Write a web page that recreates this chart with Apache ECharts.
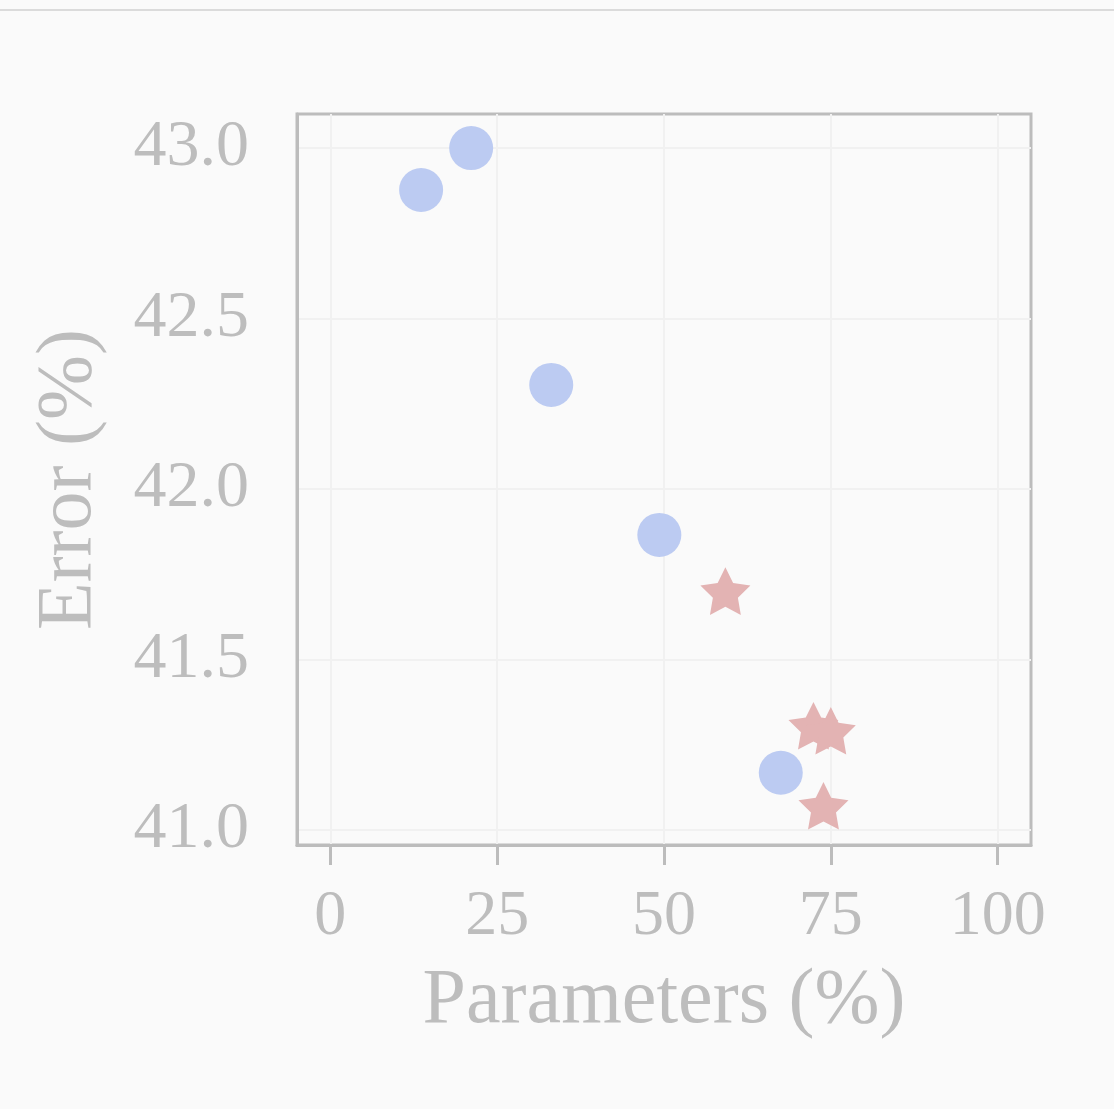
<!DOCTYPE html>
<html>
<head>
<meta charset="utf-8">
<script src="https://cdn.jsdelivr.net/npm/echarts@6/dist/echarts.min.js"></script>
<style>
html,body{margin:0;padding:0;background:#fafafa;}
#c{width:1114px;height:1109px;}
</style>
</head>
<body>
<div id="c"></div>
<script>
const xTicks = [0, 25, 50, 75, 100];
const yTicks = [41.0, 41.5, 42.0, 42.5, 43.0];
const circlePoints = [[13.6, 42.877], [21.1, 43.0], [33.1, 42.305], [49.3, 41.865], [67.5, 41.167]];
const starPoints = [[59.2, 41.70], [72.4, 41.305], [75.0, 41.29], [73.9, 41.07]];

const font = 'Liberation Serif';
const textColor = '#bdbdbd';
const lineColor = '#bcbcbc';
const starPath = 'path://M50,0 L64.69,29.77 L97.55,34.55 L73.78,57.73 L79.39,90.45 L50,75 L20.61,90.45 L26.22,57.73 L2.45,34.55 L35.31,29.77 Z';

const chart = echarts.init(document.getElementById('c'));
chart.setOption({
  backgroundColor: '#fafafa',
  animation: false,
  graphic: [{
    type: 'line', shape: {x1: 0, y1: 10, x2: 1114, y2: 10},
    style: {stroke: '#d0d0d0', lineWidth: 1.5}
  }],
  grid: {left: 297, top: 114, right: 83, bottom: 264, show: true, borderColor: lineColor, borderWidth: 3, backgroundColor: 'transparent'},
  xAxis: {
    type: 'value', min: -5, max: 105,
    name: 'Parameters (%)', nameLocation: 'middle', nameGap: 118,
    nameTextStyle: {fontFamily: font, fontSize: 78, color: textColor},
    axisLine: {show: true, onZero: false, lineStyle: {color: lineColor, width: 3}},
    axisTick: {show: true, length: 20, lineStyle: {color: lineColor, width: 3}, customValues: xTicks},
    axisLabel: {fontFamily: font, fontSize: 64, color: textColor, margin: 40, customValues: xTicks},
    splitLine: {show: true, lineStyle: {color: '#f1f1f1', width: 2}}
  },
  yAxis: {
    type: 'value', min: 40.955, max: 43.1,
    name: 'Error (%)', nameLocation: 'middle', nameGap: 188,
    nameTextStyle: {fontFamily: font, fontSize: 78, color: textColor},
    axisLine: {show: true, onZero: false, lineStyle: {color: lineColor, width: 3}},
    axisTick: {show: false, customValues: yTicks},
    axisLabel: {fontFamily: font, fontSize: 66, color: textColor, margin: 48, customValues: yTicks, formatter: v => v.toFixed(1)},
    splitLine: {show: true, lineStyle: {color: '#f1f1f1', width: 2}}
  },
  series: [
    {type: 'scatter', data: circlePoints, symbol: 'circle', symbolSize: 44, itemStyle: {color: '#bccbf2', opacity: 1}},
    {type: 'scatter', data: starPoints, symbol: starPath, symbolKeepAspect: true, symbolSize: 50, itemStyle: {color: '#e3b3b3', opacity: 1}}
  ]
});
</script>
</body>
</html>
